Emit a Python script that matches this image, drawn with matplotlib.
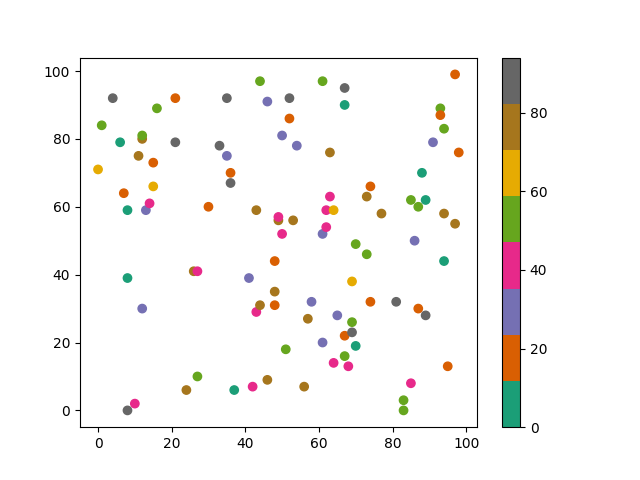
import matplotlib
matplotlib.use("Agg")
import matplotlib.pyplot as plt

# colour values per bin of the Dark2 colormap (0..94)
TEAL, ORANGE, PURPLE, PINK, GREEN, YELLOW, BROWN, GRAY = 5, 17, 29, 41, 53, 64, 76, 88

x = [0, 1, 4, 6, 7, 8, 8, 8, 10, 11,
     12, 12, 12, 13, 14, 15, 15, 16, 21, 21,
     24, 26, 27, 27, 30, 33, 35, 35, 36, 36,
     37, 41, 42, 43, 43, 44, 44, 46, 46, 48,
     48, 48, 49, 49, 50, 50, 51, 52, 52, 53,
     54, 56, 57, 58, 61, 61, 61, 62, 62, 63,
     63, 64, 64, 65, 67, 67, 67, 67, 68, 69,
     69, 69, 70, 70, 73, 73, 74, 74, 77, 81,
     83, 83, 85, 85, 86, 87, 87, 88, 89, 89,
     91, 93, 93, 94, 94, 94, 95, 97, 97, 98]
y = [71, 84, 92, 79, 64, 59, 39, 0, 2, 75,
     80, 81, 30, 59, 61, 73, 66, 89, 92, 79,
     6, 41, 41, 10, 60, 78, 92, 75, 70, 67,
     6, 39, 7, 59, 29, 97, 31, 91, 9, 44,
     35, 31, 56, 57, 81, 52, 18, 92, 86, 56,
     78, 7, 27, 32, 97, 52, 20, 59, 54, 76,
     63, 59, 14, 28, 95, 90, 22, 16, 13, 38,
     26, 23, 49, 19, 63, 46, 66, 32, 58, 32,
     3, 0, 62, 8, 50, 60, 30, 70, 62, 28,
     79, 89, 87, 83, 58, 44, 13, 99, 55, 76]
c = [YELLOW, GREEN, 94, 0, ORANGE, TEAL, TEAL, GRAY, PINK, BROWN,
     BROWN, GREEN, PURPLE, PURPLE, PINK, ORANGE, YELLOW, GREEN, ORANGE, GRAY,
     BROWN, BROWN, PINK, GREEN, ORANGE, GRAY, GRAY, PURPLE, ORANGE, GRAY,
     TEAL, PURPLE, PINK, BROWN, PINK, GREEN, BROWN, PURPLE, BROWN, ORANGE,
     BROWN, ORANGE, BROWN, PINK, PURPLE, PINK, GREEN, GRAY, ORANGE, BROWN,
     PURPLE, BROWN, BROWN, PURPLE, GREEN, PURPLE, PURPLE, PINK, PINK, BROWN,
     PINK, YELLOW, PINK, PURPLE, GRAY, TEAL, ORANGE, GREEN, PINK, YELLOW,
     GREEN, GRAY, GREEN, TEAL, BROWN, GREEN, ORANGE, ORANGE, BROWN, GRAY,
     GREEN, GREEN, GREEN, PINK, PURPLE, GREEN, ORANGE, TEAL, TEAL, GRAY,
     PURPLE, GREEN, ORANGE, GREEN, BROWN, TEAL, ORANGE, ORANGE, BROWN, ORANGE]

fig, ax = plt.subplots(figsize=(6.4, 4.8), dpi=100)
sc = ax.scatter(x, y, c=c, cmap="Dark2")
fig.colorbar(sc, ax=ax)

plt.savefig("out.png")
